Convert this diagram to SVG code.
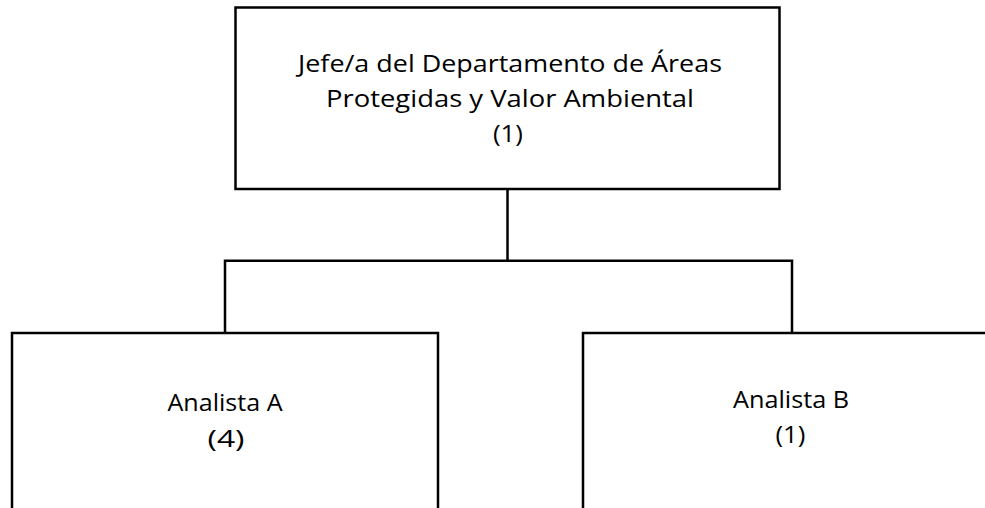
<svg xmlns="http://www.w3.org/2000/svg" width="985" height="508" viewBox="0 0 985 508">
<style>
.box{fill:#fff;stroke:#000;stroke-width:2.5}
.ln{fill:none;stroke:#000;stroke-width:2.5}
text{font-family:"Open Sans","Noto Sans","DejaVu Sans",sans-serif;font-size:24px;fill:#000;text-anchor:middle}
</style>
<rect width="985" height="508" fill="#fff"/>
<g id="connectors">
<path class="ln" d="M507.5,189 V260.7 M225,333 V260.7 H792 V333"/>
</g>
<g id="jefe">
<rect class="box" x="235.5" y="7.5" width="544" height="181.5"/>
<text x="510" y="72" textLength="424" lengthAdjust="spacingAndGlyphs">Jefe/a del Departamento de Áreas</text>
<text x="510" y="107" textLength="368" lengthAdjust="spacingAndGlyphs">Protegidas y Valor Ambiental</text>
<text x="508" y="142" textLength="30" lengthAdjust="spacingAndGlyphs">(1)</text>
</g>
<g id="analistaA">
<rect class="box" x="12" y="333" width="426" height="190"/>
<text x="225" y="411" textLength="115" lengthAdjust="spacingAndGlyphs">Analista A</text>
<text x="226" y="447" textLength="37" lengthAdjust="spacingAndGlyphs">(4)</text>
</g>
<g id="analistaB">
<rect class="box" x="583" y="333" width="416" height="190"/>
<text x="791" y="408" textLength="116" lengthAdjust="spacingAndGlyphs">Analista B</text>
<text x="790.5" y="443" textLength="30" lengthAdjust="spacingAndGlyphs">(1)</text>
</g>
</svg>
